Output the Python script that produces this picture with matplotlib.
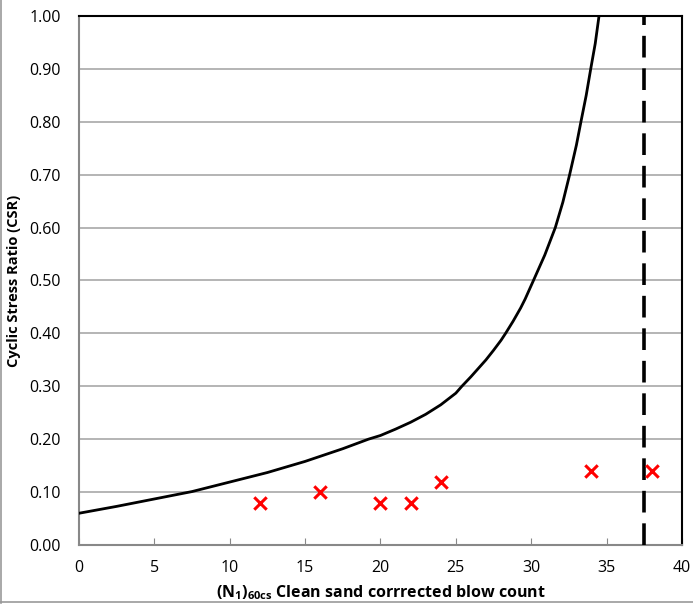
import matplotlib.pyplot as plt
from matplotlib.lines import Line2D

# Curve (N1)60cs vs CSR
curve_n = [0, 2.5, 5, 7.5, 10, 12.5, 15, 17.5, 19.2, 20, 21, 22, 23, 24, 25, 25.4,
           26, 26.5, 27, 27.5, 28, 28.3, 28.8, 29.3, 29.6, 30.15, 30.9, 31.6, 32.1,
           32.55, 33.0, 33.3, 33.65, 33.95, 34.25, 34.5]
curve_csr = [0.060, 0.073, 0.087, 0.101, 0.119, 0.137, 0.158, 0.182, 0.200, 0.207,
             0.219, 0.232, 0.247, 0.265, 0.287, 0.300, 0.318, 0.334, 0.350, 0.368,
             0.387, 0.400, 0.423, 0.448, 0.465, 0.500, 0.548, 0.600, 0.648, 0.700,
             0.756, 0.800, 0.850, 0.900, 0.948, 1.000]

# Site data points
site_n = [12, 16, 20, 22, 24, 34, 38]
site_csr = [0.08, 0.10, 0.08, 0.08, 0.12, 0.14, 0.14]

limit_n = 37.5

plt.rcParams['font.family'] = ['Open Sans', 'DejaVu Sans']
plt.rcParams['mathtext.fontset'] = 'custom'
plt.rcParams['mathtext.rm'] = 'Open Sans'
plt.rcParams['mathtext.bf'] = 'Open Sans:bold'

fig = plt.figure(figsize=(6.93, 6.04), dpi=100)
ax = fig.add_axes([0.114, 0.0977, 0.870, 0.8758])

ax.plot(curve_n, curve_csr, color='black', lw=2.0, zorder=3)
ax.scatter(site_n, site_csr, marker='x', color='#ff0000', s=80, linewidths=2.2, zorder=4)
ax.axvline(limit_n, color='black', lw=2.6, dashes=(6, 3), zorder=3)

ax.set_xlim(0, 40)
ax.set_ylim(0, 1.0)
ax.set_xticks(range(0, 41, 5))
ax.set_yticks([i / 10 for i in range(11)])
ax.set_yticklabels([f"{i / 10:.2f}" for i in range(11)])
ax.yaxis.grid(True, color='#a0a0a0', lw=1.1)
ax.set_axisbelow(True)

ax.tick_params(axis='x', direction='in', length=5, color='#888888', labelsize=11.5, pad=11)
ax.tick_params(axis='y', length=0, labelsize=11.5, pad=13)

for side in ['left', 'bottom']:
    ax.spines[side].set_color('#888888')
    ax.spines[side].set_linewidth(1.5)
for side in ['top', 'right']:
    ax.spines[side].set_color('black')
    ax.spines[side].set_linewidth(1.5)

ax.set_xlabel(r"$\mathbf{(N_1)_{60cs}}$ Clean sand corrrected blow count",
              fontsize=11.5, fontweight='bold', labelpad=5)
ax.set_ylabel("Cyclic Stress Ratio (CSR)", fontsize=10.5, fontweight='bold', labelpad=6)

# outer chart border (left and bottom only visible)
fig.add_artist(Line2D([0.002, 0.002], [0.002, 1.0], transform=fig.transFigure,
                      color='#999999', lw=1.2))
fig.add_artist(Line2D([0.0, 1.0], [0.004, 0.004], transform=fig.transFigure,
                      color='#999999', lw=1.2))

fig.savefig('out.png', dpi=100)
